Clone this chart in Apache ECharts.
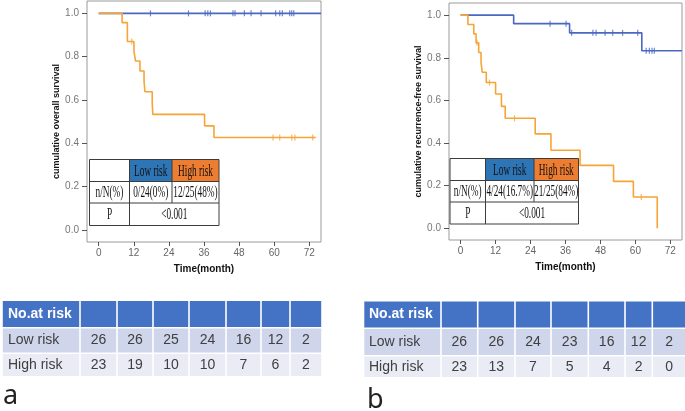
<!DOCTYPE html>
<html><head><meta charset="utf-8">
<script src="https://cdn.jsdelivr.net/npm/echarts@6/dist/echarts.min.js"></script>
<style>html,body{margin:0;padding:0;background:#fff}#c{width:685px;height:411px}</style>
</head><body><div id="c"></div>
<script>
// ---- shared ticks / labels ----
const timeTicks = [0, 12, 24, 36, 48, 60, 72];
const survTicks = [0, 0.2, 0.4, 0.6, 0.8, 1.0];
const groupNames = ['Low risk', 'High risk'];
const rowLabels = ['n/N(%)', 'P'];
const pValue = '<0.001';
const riskHeader = 'No.at risk';

// ---- panel a: overall survival ----
const aLowT = [0, 76];
const aLowS = [1, 1];
const aLowCens = [17.7, 30.7, 36.4, 37.3, 38.2, 45.9, 46.6, 49.8, 52.1, 55.5, 60.5, 61.9, 62.8, 65.3, 66.0, 66.7];
const aHighT = [0, 8.0, 9.8, 12.05, 12.6, 14.1, 15.5, 15.8, 18.3, 18.5, 36.2, 39.4, 74.2];
const aHighS = [1, 0.957, 0.870, 0.824, 0.780, 0.734, 0.687, 0.638, 0.585, 0.534, 0.481, 0.427, 0.427];
const aHighCens = [11.3, 59.6, 61.9, 66.0, 67.1, 73.2];
const aEvents = ['0/24(0%)', '12/25(48%)'];
const aRiskLow = [26, 26, 25, 24, 16, 12, 2];
const aRiskHigh = [23, 19, 10, 10, 7, 6, 2];

// ---- panel b: recurrence-free survival ----
const bLowT = [0, 18.2, 37.4, 62.2, 76];
const bLowS = [1, 0.960, 0.917, 0.833, 0.833];
const bLowCens = [30.7, 36.2, 38.1, 45.4, 46.5, 49.6, 52.2, 55.6, 60.8, 63.7, 64.8, 65.7, 66.5];
const bHighT = [0, 2.5, 4.5, 5.3, 6.2, 7.0, 7.4, 8.8, 12.0, 14.0, 15.3, 25.6, 31.0, 41.0, 52.5, 59.3, 67.5];
const bHighS = [1, 0.956, 0.912, 0.870, 0.825, 0.780, 0.732, 0.684, 0.630, 0.572, 0.516, 0.443, 0.366, 0.295, 0.220, 0.147, 0];
const bHighCens = [5.6, 9.9, 18.5, 62.0];
const bEvents = ['4/24(16.7%)', '21/25(84%)'];
const bRiskLow = [26, 26, 24, 23, 16, 12, 2];
const bRiskHigh = [23, 13, 7, 5, 4, 2, 0];

const BLUE = '#4a68c0', ORANGE = '#f7a437';

function survAt(T, S, t) { let v = S[0]; for (let i = 0; i < T.length; i++) { if (T[i] <= t) v = S[i]; } return v; }
function curve(T, S) { return T.map((t, i) => [t, S[i]]); }
function cens(T, S, C) { return C.map(t => [t, survAt(T, S, t)]); }

function xAx(gi) {
  return {
    type: 'value', gridIndex: gi, min: -4, max: 76,
    axisLine: { show: false, onZero: false }, splitLine: { show: false },
    axisTick: { show: true, customValues: timeTicks, length: 4, lineStyle: { color: '#555' } },
    axisLabel: { customValues: timeTicks, fontSize: 10, color: '#666', margin: 6, fontFamily: 'Liberation Sans' },
    name: 'Time(month)', nameLocation: 'middle', nameGap: 22,
    nameTextStyle: { fontWeight: 'bold', fontSize: 10, color: '#111', fontFamily: 'Liberation Sans' }
  };
}
function yAx(gi, name, gap) {
  return {
    type: 'value', gridIndex: gi, min: -0.055, max: 1.057,
    axisLine: { show: false, onZero: false }, splitLine: { show: false },
    axisTick: { show: true, customValues: survTicks, length: 5, lineStyle: { color: '#555' } },
    axisLabel: { customValues: survTicks, formatter: v => v.toFixed(1), fontSize: 10, color: '#777', margin: 8, fontFamily: 'Liberation Sans' },
    name: name, nameLocation: 'middle', nameGap: gap,
    nameTextStyle: { fontWeight: 'bold', fontSize: 9, color: '#111', fontFamily: 'Liberation Sans' }
  };
}
function lineS(gi, data, color) {
  return { type: 'line', xAxisIndex: gi, yAxisIndex: gi, data: data, step: 'end', showSymbol: false, symbol: 'none',
    lineStyle: { color: color, width: 1.6 }, silent: true, animation: false };
}
function censS(gi, data, color) {
  return { type: 'scatter', xAxisIndex: gi, yAxisIndex: gi, data: data, symbol: 'rect', symbolSize: [1.2, 6],
    itemStyle: { color: color }, silent: true, animation: false };
}

const G = [];
const TF = 'Liberation Sans';
function txt(x, y, s, opt) {
  opt = opt || {};
  G.push({ type: 'text', x: x, y: y, z: 100, scaleX: opt.sx || 1,
    style: { text: String(s), fill: opt.fill || '#333', font: opt.font || ('14px ' + TF),
      align: opt.align || 'center', verticalAlign: 'middle', textAlign: opt.align || 'center', textVerticalAlign: 'middle' } });
}
function rect(x, y, w, h, fill, stroke) {
  G.push({ type: 'rect', z: 99, shape: { x: x, y: y, width: w, height: h },
    style: { fill: fill, stroke: stroke || null, lineWidth: stroke ? 1 : 0 } });
}
function ln(x1, y1, x2, y2) {
  G.push({ type: 'line', z: 100, shape: { x1: x1, y1: y1, x2: x2, y2: y2 }, style: { stroke: '#3c3c3c', lineWidth: 1 } });
}

// overlay summary table inside plot
function overlay(cols, rows, events) {
  rect(cols[0], rows[0], cols[3] - cols[0], rows[3] - rows[0], '#fff', null);
  rect(cols[1], rows[0], cols[2] - cols[1], rows[1] - rows[0], '#2e75b6');
  rect(cols[2], rows[0], cols[3] - cols[2], rows[1] - rows[0], '#ed7d31');
  ln(cols[0], rows[0], cols[3], rows[0]); ln(cols[0], rows[3], cols[3], rows[3]);
  ln(cols[0], rows[1], cols[3], rows[1]); ln(cols[0], rows[2], cols[3], rows[2]);
  ln(cols[0], rows[0], cols[0], rows[3]); ln(cols[3], rows[0], cols[3], rows[3]);
  ln(cols[1], rows[0], cols[1], rows[3]); ln(cols[2], rows[0], cols[2], rows[2]);
  const f = '16px Liberation Serif', sx = 0.58;
  const cx = i => (cols[i] + cols[i + 1]) / 2, cy = j => (rows[j] + rows[j + 1]) / 2 + 1;
  txt(cx(1), cy(0), groupNames[0], { font: f, fill: '#111', sx: sx });
  txt(cx(2), cy(0), groupNames[1], { font: f, fill: '#111', sx: sx });
  txt(cx(0), cy(1), rowLabels[0], { font: f, fill: '#111', sx: sx });
  txt(cx(1), cy(1), events[0], { font: f, fill: '#111', sx: sx });
  txt(cx(2), cy(1), events[1], { font: f, fill: '#111', sx: sx });
  txt(cx(0), cy(2), rowLabels[1], { font: f, fill: '#111', sx: sx });
  txt((cols[1] + cols[3]) / 2, cy(2), pValue, { font: f, fill: '#111', sx: sx });
}
overlay([89.5, 129.5, 172, 219], [159.5, 181.5, 203, 225.5], aEvents);
overlay([450, 485.5, 534, 578.5], [158.5, 180.5, 202, 224], bEvents);

// number-at-risk tables
function riskTable(cols, rows, low, high, labelX) {
  const fills = ['#4472c4', '#cfd5ea', '#e9ebf5'];
  for (let r = 0; r < 3; r++) {
    for (let c = 0; c < cols.length - 1; c++) {
      rect(cols[c] + 0.8, rows[r][0], cols[c + 1] - cols[c] - 1.6, rows[r][1] - rows[r][0], fills[r]);
    }
  }
  const cy = r => (rows[r][0] + rows[r][1]) / 2;
  txt(labelX, cy(0), riskHeader, { align: 'left', fill: '#fff', font: 'bold 14px ' + TF });
  txt(labelX, cy(1), groupNames[0], { align: 'left', fill: '#404040', font: '14px ' + TF });
  txt(labelX, cy(2), groupNames[1], { align: 'left', fill: '#404040', font: '14px ' + TF });
  for (let i = 0; i < low.length; i++) {
    const x = (cols[i + 1] + cols[i + 2]) / 2;
    txt(x, cy(1), low[i], { fill: '#404040', font: '14px ' + TF });
    txt(x, cy(2), high[i], { fill: '#404040', font: '14px ' + TF });
  }
}
riskTable([2, 80, 117, 153, 189, 226, 261, 290, 322], [[301, 327], [328.5, 352.5], [354, 376]], aRiskLow, aRiskHigh, 8);
riskTable([363.5, 441, 477.7, 515, 551, 588.3, 625, 652.3, 686], [[301.5, 327.5], [329, 355], [356.5, 377]], bRiskLow, bRiskHigh, 369);

G.push({ type: 'text', x: 3, y: 396.5, z: 100, style: { text: 'a', fill: '#222', font: '27px Noto Sans', textVerticalAlign: 'middle', verticalAlign: 'middle' } });
G.push({ type: 'text', x: 367, y: 400.5, z: 100, style: { text: 'b', fill: '#222', font: '27px Noto Sans', textVerticalAlign: 'middle', verticalAlign: 'middle' } });

const chart = echarts.init(document.getElementById('c'), null, { renderer: 'canvas' });
chart.setOption({
  animation: false,
  backgroundColor: '#fff',
  grid: [
    { left: 87, top: 1, width: 234, height: 241, show: true, borderColor: '#9a9a9a', borderWidth: 1, backgroundColor: 'transparent' },
    { left: 449, top: 3, width: 233, height: 237, show: true, borderColor: '#9a9a9a', borderWidth: 1, backgroundColor: 'transparent' }
  ],
  xAxis: [xAx(0), xAx(1)],
  yAxis: [yAx(0, 'cumulative overall survival', 23), yAx(1, 'cumulative recurrence-free survival', 24)],
  series: [
    lineS(0, curve(aLowT, aLowS), BLUE),
    censS(0, cens(aLowT, aLowS, aLowCens), BLUE),
    lineS(0, curve(aHighT, aHighS), ORANGE),
    censS(0, cens(aHighT, aHighS, aHighCens), ORANGE),
    lineS(1, curve(bLowT, bLowS), BLUE),
    censS(1, cens(bLowT, bLowS, bLowCens), BLUE),
    lineS(1, curve(bHighT, bHighS), ORANGE),
    censS(1, cens(bHighT, bHighS, bHighCens), ORANGE)
  ],
  graphic: G
});
</script></body></html>
